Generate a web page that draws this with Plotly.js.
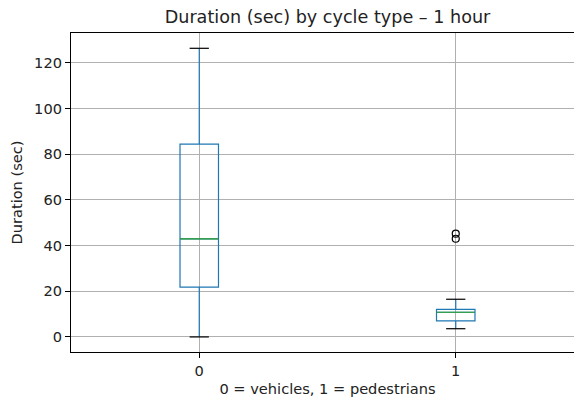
<!DOCTYPE html>
<html>
<head>
<meta charset="utf-8">
<script src="https://cdn.plot.ly/plotly-3.0.1.min.js"></script>
<style>
html, body { margin: 0; padding: 0; overflow: hidden; background: #fff; }
#chart { width: 590px; height: 399px; }
</style>
</head>
<body>
<div id="chart"></div>
<script>
// Data
const categories = [0, 1];
const tickLabels = ['0', '1'];
const q1Values = [21.8, 7.0];
const medianValues = [42.9, 10.8];
const q3Values = [84.4, 12.1];
const lowerWhisker = [0, 3.6];
const upperWhisker = [126.4, 16.5];
const outlierCategory = [1, 1];
const outlierValues = [45.2, 43.0];

// Style
const boxWidth = 0.15;
const capHalf = boxWidth / 4;
const blue = '#1f77b4';
const green = '#2ca02c';
const font = 'DejaVu Sans, sans-serif';
const txt = '#222';

const traces = [];
categories.forEach((c, i) => {
  traces.push({
    type: 'box',
    x: [c],
    q1: [q1Values[i]],
    median: [medianValues[i]],
    q3: [q3Values[i]],
    lowerfence: [lowerWhisker[i]],
    upperfence: [upperWhisker[i]],
    width: boxWidth,
    whiskerwidth: 0,
    boxpoints: false,
    line: { color: blue, width: 1.2 },
    fillcolor: 'rgba(0,0,0,0)',
    hoverinfo: 'skip',
    showlegend: false
  });
});

// caps (black)
const capX = [], capY = [];
categories.forEach((c, i) => {
  capX.push(c - capHalf, c + capHalf, null, c - capHalf, c + capHalf, null);
  capY.push(lowerWhisker[i], lowerWhisker[i], null, upperWhisker[i], upperWhisker[i], null);
});
traces.push({
  type: 'scatter', mode: 'lines', x: capX, y: capY,
  line: { color: '#000', width: 1.2 }, hoverinfo: 'skip', showlegend: false
});

// medians (green)
const medX = [], medY = [];
categories.forEach((c, i) => {
  medX.push(c - boxWidth / 2, c + boxWidth / 2, null);
  medY.push(medianValues[i], medianValues[i], null);
});
traces.push({
  type: 'scatter', mode: 'lines', x: medX, y: medY,
  line: { color: green, width: 1.2 }, hoverinfo: 'skip', showlegend: false
});

// fliers
traces.push({
  type: 'scatter', mode: 'markers', x: outlierCategory, y: outlierValues,
  marker: { symbol: 'circle-open', size: 7, color: '#000', line: { width: 1.2, color: '#000' } },
  hoverinfo: 'skip', showlegend: false
});

const layout = {
  width: 590,
  height: 399,
  margin: { l: 71, r: 6, t: 33, b: 47 },
  paper_bgcolor: '#fff',
  plot_bgcolor: '#fff',
  font: { family: font, size: 14.6, color: txt },
  title: {
    text: 'Duration (sec) by cycle type – 1 hour',
    font: { family: font, size: 17.6, color: txt },
    x: 0.5, xanchor: 'center', xref: 'paper',
    y: 1, yref: 'paper', yanchor: 'bottom', pad: { b: 10 }
  },
  xaxis: {
    range: [-0.5, 1.5],
    tickvals: categories,
    ticktext: tickLabels,
    ticks: 'outside', ticklen: 5, tickwidth: 1, tickcolor: '#000',
    showline: true, linecolor: '#000', linewidth: 1.1, mirror: true,
    showgrid: true, gridcolor: '#b0b0b0', gridwidth: 1.1,
    zeroline: false,
    tickfont: { family: font, size: 14.6, color: txt },
    title: { text: '0 = vehicles, 1 = pedestrians', font: { family: font, size: 14.6, color: txt }, standoff: 6 }
  },
  yaxis: {
    range: [-6.6, 133.1],
    tickvals: [0, 20, 40, 60, 80, 100, 120],
    ticks: 'outside', ticklen: 5, tickwidth: 1, tickcolor: '#000',
    showline: true, linecolor: '#000', linewidth: 1.1, mirror: true,
    showgrid: true, gridcolor: '#b0b0b0', gridwidth: 1.1,
    zeroline: false,
    tickfont: { family: font, size: 14.6, color: txt },
    title: { text: 'Duration (sec)', font: { family: font, size: 14.6, color: txt }, standoff: 8 }
  }
};

Plotly.newPlot('chart', traces, layout, { staticPlot: true, displayModeBar: false });
</script>
</body>
</html>
